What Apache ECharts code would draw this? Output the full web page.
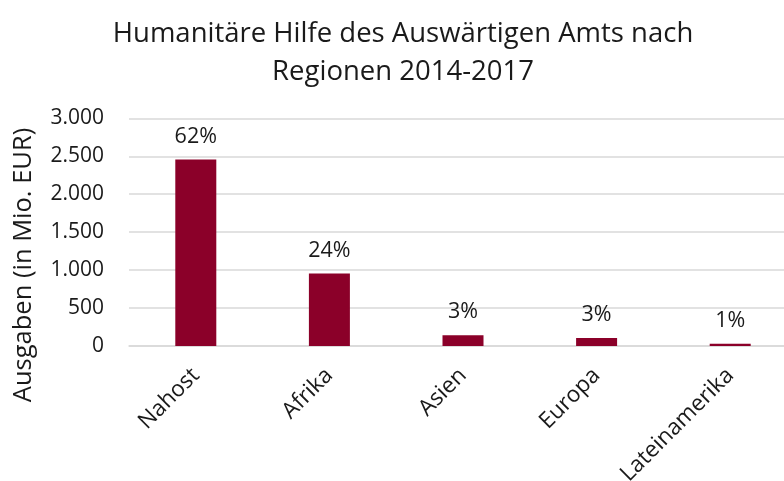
<!DOCTYPE html>
<html>
<head>
<meta charset="utf-8">
<script src="https://cdn.jsdelivr.net/npm/echarts@6/dist/echarts.min.js"></script>
<style>html,body{margin:0;padding:0;background:#fff;}#c{width:784px;height:481px;}</style>
</head>
<body>
<div id="c"></div>
<script>
const categories = ['Nahost', 'Afrika', 'Asien', 'Europa', 'Lateinamerika'];
const values = [2457, 955, 140, 105, 30];
const shareLabels = ['62%', '24%', '3%', '3%', '1%'];
const yTicks = [0, 500, 1000, 1500, 2000, 2500, 3000];

const FONT = '"Open Sans", "Noto Sans", sans-serif';
const fmt = v => String(v).replace(/\B(?=(\d{3})+(?!\d))/g, '.');

const chart = echarts.init(document.getElementById('c'), null, {renderer: 'canvas'});
chart.setOption({
  animation: false,
  backgroundColor: '#fff',
  title: {
    text: 'Humanitäre Hilfe des Auswärtigen Amts nach\nRegionen 2014-2017',
    left: 398, top: 10, textAlign: 'center',
    textStyle: {fontFamily: FONT, fontSize: 27.5, fontWeight: 'normal', color: '#1a1a1a', lineHeight: 38}
  },
  grid: {left: 129, top: 118.3, width: 668, height: 227.7, containLabel: false, outerBoundsMode: 'none'},
  xAxis: {
    type: 'category', data: categories,
    axisLine: {show: true, lineStyle: {color: '#d9d9d9', width: 1.5}},
    axisTick: {show: false},
    axisLabel: {rotate: 45, margin: 26, interval: 0, fontFamily: FONT, fontSize: 22.5, color: '#1a1a1a'}
  },
  yAxis: {
    type: 'value', min: yTicks[0], max: yTicks[yTicks.length - 1], interval: 500,
    axisLine: {show: false}, axisTick: {show: false},
    splitLine: {lineStyle: {color: '#d9d9d9', width: 1.5}},
    axisLabel: {margin: 25, fontFamily: FONT, fontSize: 21, color: '#1a1a1a', formatter: v => fmt(v)}
  },
  graphic: [{
    type: 'text', x: 24, y: 265, rotation: Math.PI / 2,
    style: {text: 'Ausgaben (in Mio. EUR)', fontFamily: FONT, fontSize: 25.5, fill: '#1a1a1a', align: 'center', verticalAlign: 'middle'}
  }],
  series: [{
    type: 'bar', data: values, barWidth: 41,
    itemStyle: {color: '#8B0029'},
    label: {
      show: true, position: 'top', distance: 12,
      fontFamily: FONT, fontSize: 21.5, color: '#1a1a1a',
      formatter: p => shareLabels[p.dataIndex]
    }
  }]
});
</script>
</body>
</html>
